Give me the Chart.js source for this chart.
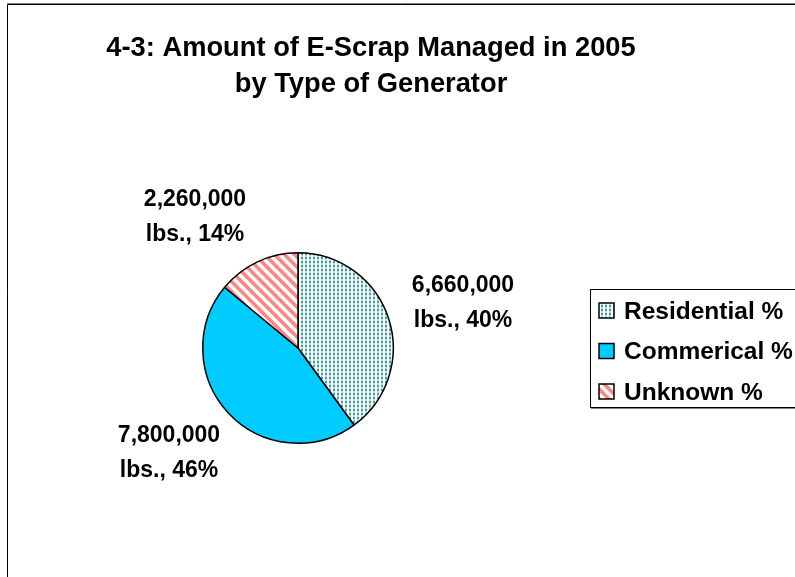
<!DOCTYPE html>
<html>
<head>
<meta charset="utf-8">
<script src="https://cdn.jsdelivr.net/npm/chart.js@4"></script>
<style>
  html, body { margin: 0; padding: 0; background: #fff; }
  #wrap { width: 795px; height: 577px; }
</style>
</head>
<body>
<div id="wrap"><canvas id="chart" width="795" height="577"></canvas></div>
<script>
const categories = ["Residential %", "Commerical %", "Unknown %"];
const percents = [40, 46, 14];
const pounds = [6660000, 7800000, 2260000];
const titleLines = ["4-3: Amount of E-Scrap Managed in 2005", "by Type of Generator"];

// where each data label sits (centre of the two-line block)
const labelPos = [[463, 304], [169, 454], [195, 218]];

const canvas = document.getElementById("chart");
const ctx = canvas.getContext("2d");

function dotPattern() {
  const t = document.createElement("canvas");
  t.width = 4; t.height = 4;
  const g = t.getContext("2d");
  g.fillStyle = "#fff";
  g.fillRect(0, 0, 4, 4);
  g.fillStyle = "#b8dede";
  g.fillRect(1, 0, 2, 4);
  g.fillStyle = "#3aa2a2";
  g.fillRect(1, 1, 2, 2);
  return ctx.createPattern(t, "repeat");
}

function stripePattern() {
  const s = 10;
  const t = document.createElement("canvas");
  t.width = s; t.height = s;
  const g = t.getContext("2d");
  g.fillStyle = "#fff";
  g.fillRect(0, 0, s, s);
  g.strokeStyle = "#ff8585";
  g.lineWidth = 3.6;
  for (let k = -1; k <= 1; k++) {
    g.beginPath();
    g.moveTo(-2, k * s - 2);
    g.lineTo(s + 2, s + k * s + 2);
    g.stroke();
  }
  return ctx.createPattern(t, "repeat");
}

const fills = [dotPattern(), "#00ccff", stripePattern()];

const decor = {
  id: "decor",
  beforeDraw(chart) {
    const c = chart.ctx;
    c.save();
    c.fillStyle = "#fff";
    c.fillRect(0, 0, chart.width, chart.height);
    // outer frame
    c.strokeStyle = "#808080";
    c.lineWidth = 1;
    c.beginPath();
    c.moveTo(7, 3.5); c.lineTo(chart.width, 3.5);
    c.stroke();
    c.strokeStyle = "#000";
    c.beginPath();
    c.moveTo(chart.width, 4.5); c.lineTo(7.5, 4.5); c.lineTo(7.5, chart.height);
    c.stroke();
    c.restore();
  },
  afterDraw(chart) {
    const c = chart.ctx;
    c.save();
    c.fillStyle = "#000";
    c.textAlign = "center";
    c.textBaseline = "middle";

    c.font = "bold 27.3px 'Liberation Sans', Arial, sans-serif";
    titleLines.forEach((t, i) => c.fillText(t, 371, 48 + i * 36));

    c.font = "bold 23px 'Liberation Sans', Arial, sans-serif";
    labelPos.forEach(([x, y], i) => {
      c.fillText(pounds[i].toLocaleString("en-US"), x, y - 18);
      c.fillText("lbs., " + percents[i] + "%", x, y + 17);
    });

    // legend
    c.strokeStyle = "#000";
    c.lineWidth = 1;
    c.strokeRect(590.5, 289.5, 300, 118);
    c.strokeStyle = "#808080";
    c.beginPath();
    c.moveTo(591, 408.5); c.lineTo(chart.width, 408.5);
    c.stroke();

    c.textAlign = "left";
    c.font = "bold 24.5px 'Liberation Sans', Arial, sans-serif";
    categories.forEach((name, i) => {
      const y = 311 + i * 40.5;
      c.fillStyle = fills[i];
      c.fillRect(599, y - 8, 15, 15);
      c.strokeStyle = "#000";
      c.lineWidth = 1.5;
      c.strokeRect(599, y - 8, 15, 15);
      c.fillStyle = "#000";
      c.fillText(name, 624, y + 1);
    });
    c.restore();
  }
};

new Chart(canvas, {
  type: "pie",
  data: {
    labels: categories,
    datasets: [{
      data: percents,
      backgroundColor: fills,
      borderColor: "#000",
      borderWidth: 1.5,
      hoverOffset: 0
    }]
  },
  options: {
    responsive: false,
    animation: false,
    events: [],
    layout: { padding: { left: 201, right: 400, top: 252, bottom: 133 } },
    plugins: {
      legend: { display: false },
      title: { display: false },
      tooltip: { enabled: false }
    }
  },
  plugins: [decor]
});
</script>
</body>
</html>
